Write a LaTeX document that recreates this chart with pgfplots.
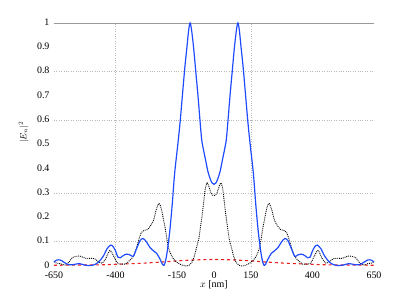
\documentclass[border=0pt]{standalone}
\usepackage{fontspec}
\setmainfont{Liberation Serif}
\usepackage{pgfplots}
\pgfplotsset{compat=1.18}
\definecolor{myblue}{RGB}{30,75,255}
\definecolor{myred}{RGB}{235,30,30}
\begin{document}
\fontsize{10}{12}\selectfont
\begin{tikzpicture}
\useasboundingbox (-54bp,-33bp) rectangle (361bp,266bp);
\begin{axis}[
  scale only axis,
  width=320bp, height=243bp,
  xmin=-650, xmax=650, ymin=0, ymax=1,
  clip=false,
  axis line style={draw=none},
  major tick length=0pt,
  xtick={-650,-400,-150,0,150,400,650},
  ytick={0,0.1,0.2,0.3,0.4,0.5,0.6,0.7,0.8,0.9,1},
  /pgf/number format/assume math mode=true,
  tick label style={font=\fontsize{10}{12}\selectfont},
  yticklabel style={xshift=-1bp, yshift=1bp},
  xticklabel style={yshift=-2bp},
  extra y ticks={0.1,0.3,0.6,0.8},
  extra y tick labels={},
  extra x ticks={-400,150},
  extra x tick labels={},
  extra tick style={grid=major, major grid style={gray!55, dotted, line width=0.6pt}},
  xlabel={$x$ [nm]},
  ylabel={$|E_n|^2$},
  xlabel style={at={(axis description cs:0.5,-0.075)}, anchor=center, font=\fontsize{10}{12}\selectfont},
  ylabel style={at={(axis description cs:-0.095,0.55)}, anchor=center, font=\fontsize{9}{11}\selectfont},
]
\draw[gray!80, line width=0.7pt] (axis cs:-650,1) -- (axis cs:650,1);
% red dashed
\addplot[myred, dashed, line width=1.1pt, smooth] coordinates {
(-650,0.003) (-550,0.004) (-450,0.005) (-400,0.007) (-350,0.009) (-300,0.011)
(-250,0.014) (-200,0.017) (-150,0.021) (-100,0.024) (-50,0.026) (0,0.027)
(50,0.026) (100,0.024) (150,0.021) (200,0.017) (250,0.014) (300,0.011)
(350,0.009) (400,0.007) (450,0.005) (550,0.004) (650,0.003)
};
% black dotted
\addplot[black, densely dotted, line width=0.9pt, smooth] coordinates {
(-650,0.018) (-640,0.012) (-626,0.010) (-606,0.004) (-590,0.015) (-575,0.035)
(-560,0.040) (-545,0.041) (-530,0.035) (-518,0.031) (-500,0.032) (-485,0.030)
(-470,0.018) (-455,0.012) (-440,0.030) (-423,0.064) (-410,0.045) (-400,0.025)
(-390,0.010) (-375,0.008) (-360,0.008) (-348,0.018) (-335,0.030) (-325,0.045)
(-315,0.075) (-305,0.110) (-295,0.138) (-285,0.146) (-270,0.150) (-255,0.170)
(-245,0.190) (-235,0.230) (-224,0.258) (-215,0.240) (-205,0.190) (-199,0.160)
(-186,0.080) (-175,0.048) (-165,0.030) (-150,0.015) (-135,0.006) (-120,0.001)
(-110,0.000) (-100,0.004) (-90,0.015) (-80,0.040) (-70,0.080) (-62,0.110)
(-55,0.160) (-48,0.210) (-40,0.280) (-35,0.320) (-28,0.342) (-20,0.325)
(-12,0.300) (-6,0.292) (0,0.290)
(6,0.292) (12,0.300) (20,0.325) (28,0.342) (35,0.320) (40,0.280) (48,0.210)
(55,0.160) (62,0.110) (70,0.080) (80,0.040) (90,0.015) (100,0.004) (110,0.000)
(120,0.001) (135,0.006) (150,0.015) (165,0.030) (175,0.048) (186,0.080)
(199,0.160) (205,0.190) (215,0.240) (224,0.258) (235,0.230) (245,0.190)
(255,0.170) (270,0.150) (285,0.146) (295,0.138) (305,0.110) (315,0.075)
(325,0.045) (335,0.030) (348,0.018) (360,0.008) (375,0.008) (390,0.010)
(400,0.025) (410,0.045) (423,0.064) (440,0.030) (455,0.012) (470,0.018)
(485,0.030) (500,0.032) (518,0.031) (530,0.035) (545,0.041) (560,0.040)
(575,0.035) (590,0.015) (606,0.004) (626,0.010) (640,0.012) (650,0.018)
};
% blue solid
\addplot[myblue, line width=1.2pt, smooth] coordinates {
(-650,0.016) (-640,0.024) (-625,0.025) (-610,0.016) (-590,0.005) (-570,0.006)
(-548,0.010) (-530,0.005) (-510,0.002) (-490,0.004) (-470,0.015) (-450,0.040)
(-435,0.070) (-420,0.086) (-410,0.080) (-400,0.062) (-390,0.036) (-380,0.034)
(-370,0.042) (-355,0.049) (-340,0.045) (-328,0.040) (-315,0.070) (-300,0.105)
(-288,0.113) (-275,0.100) (-260,0.076) (-245,0.062) (-233,0.052) (-220,0.030)
(-210,0.008) (-203,0.003) (-197,0.020) (-190,0.060) (-180,0.140) (-170,0.250)
(-160,0.380) (-147,0.500) (-137,0.600) (-120,0.800) (-110,0.900) (-103,0.970)
(-97,1.000) (-91,0.970) (-83,0.900) (-74,0.800) (-65,0.700) (-57,0.600)
(-50,0.520) (-43,0.480) (-34,0.435) (-25,0.390) (-16,0.360) (-8,0.342) (0,0.336)
(8,0.342) (16,0.360) (25,0.390) (34,0.435) (43,0.480) (50,0.520) (57,0.600)
(65,0.700) (74,0.800) (83,0.900) (91,0.970) (97,1.000) (103,0.970) (110,0.900)
(120,0.800) (137,0.600) (147,0.500) (160,0.380) (170,0.250) (180,0.140)
(190,0.060) (197,0.020) (203,0.003) (210,0.008) (220,0.030) (233,0.052)
(245,0.062) (260,0.076) (275,0.100) (288,0.113) (300,0.105) (315,0.070)
(328,0.040) (340,0.045) (355,0.049) (370,0.042) (380,0.034) (390,0.036)
(400,0.062) (410,0.080) (420,0.086) (435,0.070) (450,0.040) (470,0.015)
(490,0.004) (510,0.002) (530,0.005) (548,0.010) (570,0.006) (590,0.005)
(610,0.016) (625,0.025) (640,0.024) (650,0.016)
};
\end{axis}
\end{tikzpicture}
\end{document}
